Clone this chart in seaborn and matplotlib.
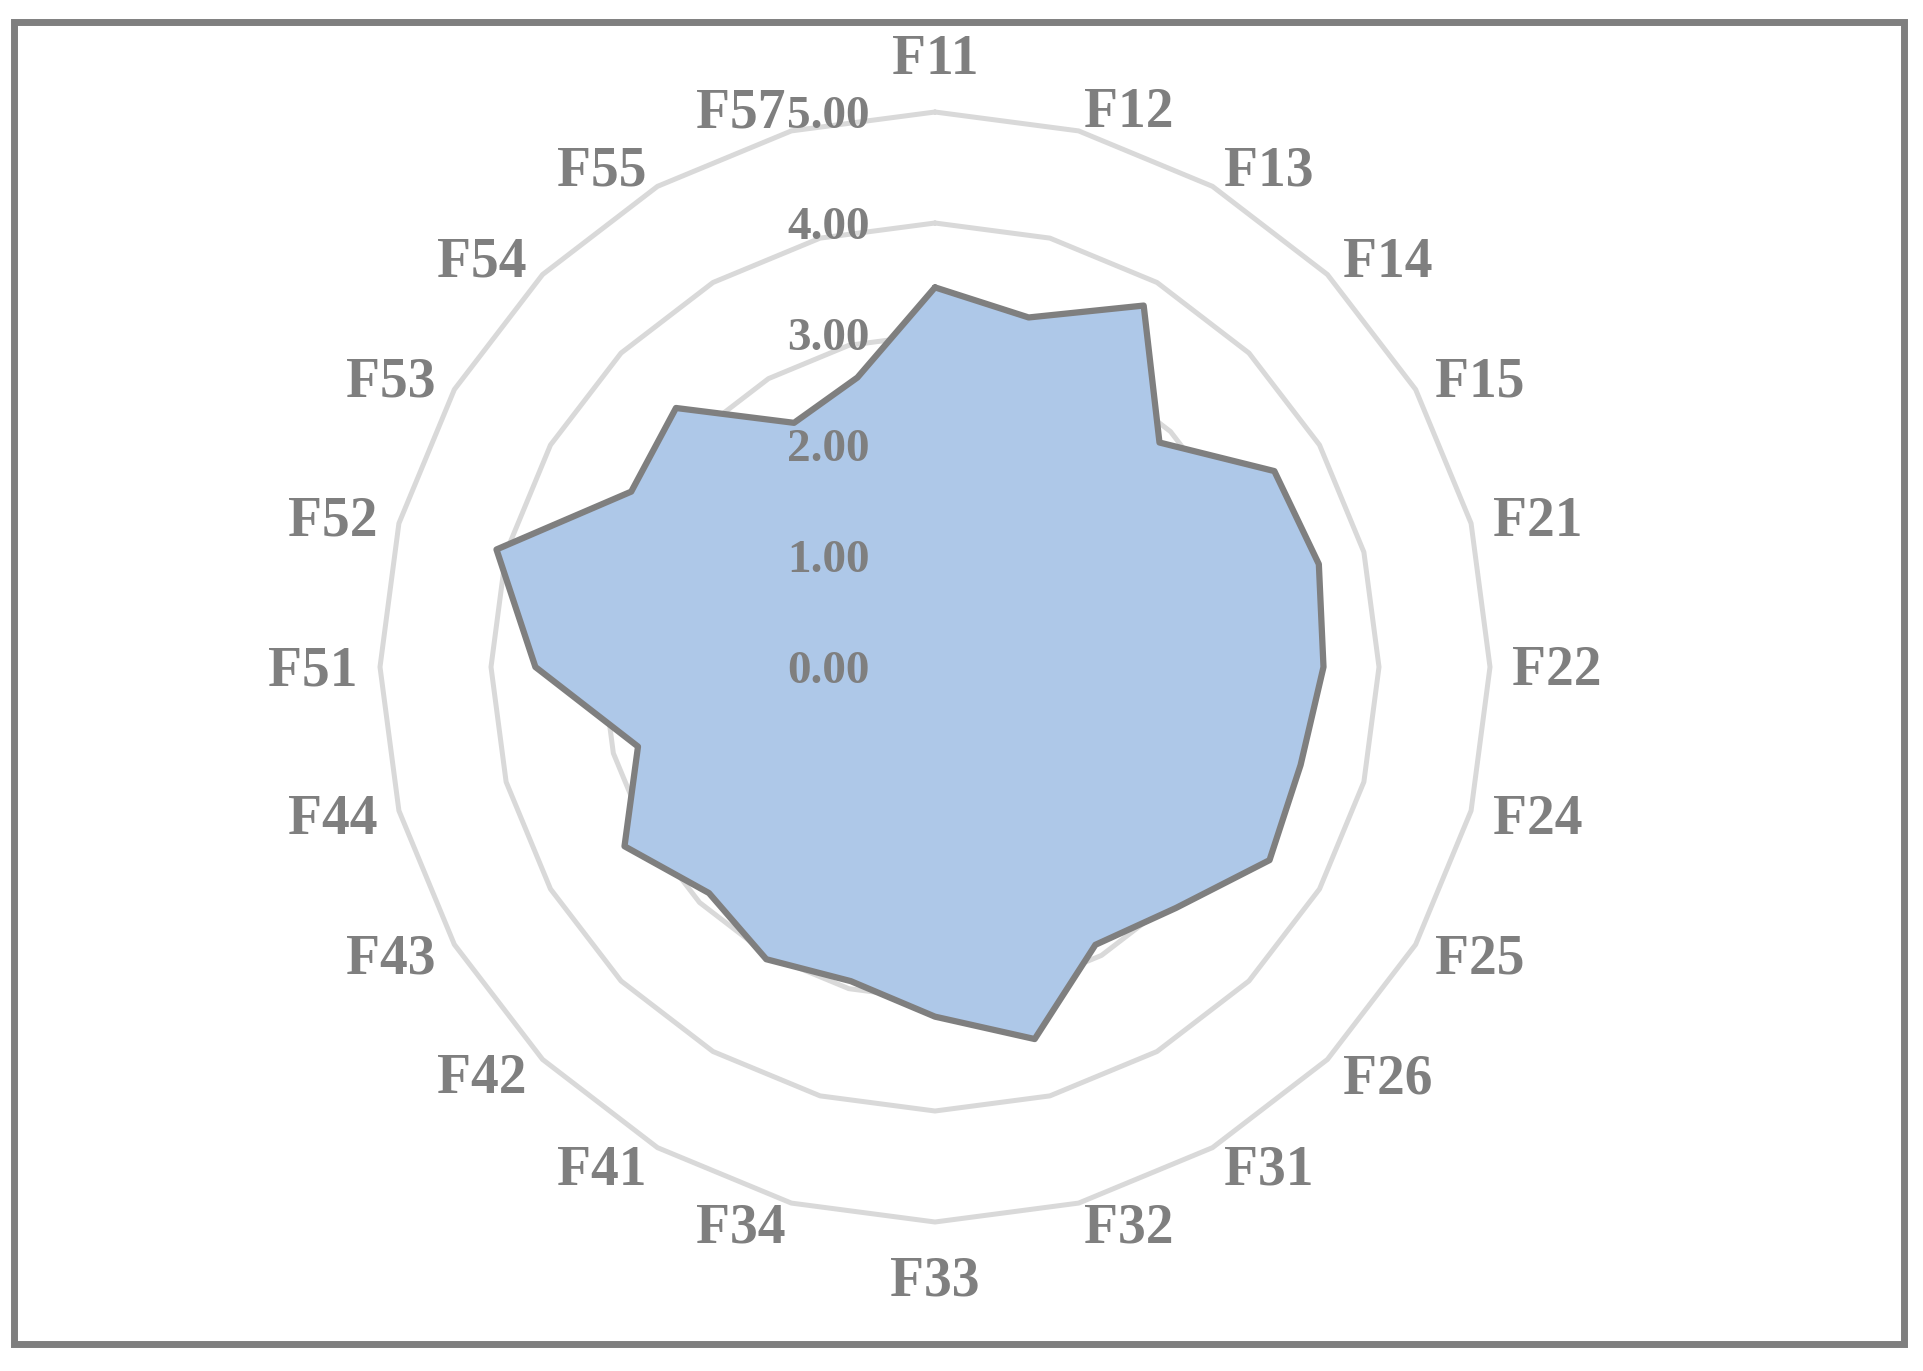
import numpy as np
import matplotlib
matplotlib.use("Agg")
import matplotlib.pyplot as plt
import matplotlib.transforms as mtransforms
from matplotlib.patches import Rectangle
import seaborn as sns

# Data
categories = ['F11', 'F12', 'F13', 'F14', 'F15', 'F21', 'F22', 'F24', 'F25', 'F26',
              'F31', 'F32', 'F33', 'F34', 'F41', 'F42', 'F43', 'F44',
              'F51', 'F52', 'F53', 'F54', 'F55', 'F57']
values = [3.42, 3.26, 3.76, 2.86, 3.53, 3.58, 3.50, 3.41, 3.48, 3.07,
          2.89, 3.47, 3.15, 2.93, 3.04, 2.88, 3.23, 2.77,
          3.60, 4.09, 3.16, 3.30, 2.54, 2.70]
ring_levels = [0, 1, 2, 3, 4, 5]

sns.set_style('white')
plt.rcParams['font.family'] = ['Liberation Serif', 'DejaVu Serif']
plt.rcParams['font.weight'] = 'bold'

grey = '#7F7F7F'
grid_col = '#D9D9D9'
fill_col = '#AEC8E8'

W, H = 1924, 1371
fig = plt.figure(figsize=(W / 100, H / 100), dpi=100)
cx, cy, R = 935, 667, 555
ax = fig.add_axes([(cx - R) / W, (H - cy - R) / H, 2 * R / W, 2 * R / H], projection='polar')
ax.set_theta_zero_location('N')
ax.set_theta_direction(-1)
ax.set_ylim(0, 5)
ax.grid(False)
ax.spines['polar'].set_visible(False)
ax.set_xticks([])
ax.set_yticks([])
ax.patch.set_alpha(0)

n = len(categories)
angles = np.arange(n) * 2 * np.pi / n
ang_closed = np.append(angles, 2 * np.pi)

# polygon gridlines
for lvl in ring_levels[1:]:
    ax.plot(ang_closed, [lvl] * (n + 1), color=grid_col, lw=3.6, zorder=1, clip_on=False)

vals_closed = np.append(values, values[0])
ax.fill(ang_closed, vals_closed, color=fill_col, zorder=2, lw=0)
sns.lineplot(x=ang_closed, y=vals_closed, sort=False, estimator=None, ax=ax,
             color=grey, lw=4.5, zorder=3)
ax.set_xlabel('')
ax.set_ylabel('')

# radial tick labels
off = mtransforms.offset_copy(ax.transData, fig=fig, x=-65, y=-16, units='dots')
for lvl in ring_levels:
    ax.text(0, lvl, f'{lvl:.2f}', transform=off, ha='right', va='baseline',
            fontsize=34, color=grey, fontweight='bold', zorder=5)

# category labels
lab_off = mtransforms.offset_copy(ax.transData, fig=fig, x=0, y=-18, units='dots')
for a, name in zip(angles, categories):
    s = np.sin(a)
    if abs(s) < 0.1:
        ax.text(a, 5.5, name, transform=lab_off, ha='center', va='baseline',
                fontsize=40, color=grey, fontweight='bold', clip_on=False)
    else:
        ax.text(a, 5.2, name, transform=lab_off, ha='left' if s > 0 else 'right',
                va='baseline', fontsize=40, color=grey, fontweight='bold', clip_on=False)

# outer frame
fig.patches.append(Rectangle((14.5 / W, 1 - 1343.5 / H), 1890 / W, 1322 / H,
                             transform=fig.transFigure, fill=False,
                             edgecolor=grey, lw=5))

fig.savefig('out.png', dpi=100)
